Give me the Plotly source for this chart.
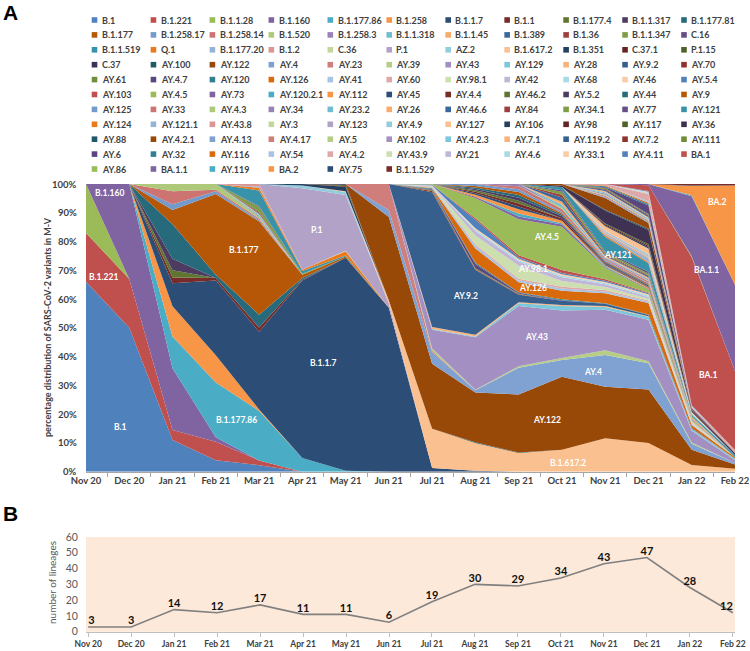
import plotly.graph_objects as go

# ---------------- data ----------------
months = ["Nov 20", "Dec 20", "Jan 21", "Feb 21", "Mar 21", "Apr 21", "May 21", "Jun 21",
          "Jul 21", "Aug 21", "Sep 21", "Oct 21", "Nov 21", "Dec 21", "Jan 22", "Feb 22"]

lineage_count = [3, 3, 14, 12, 17, 11, 11, 6, 19, 30, 29, 34, 43, 47, 28, 12]

pct_ticks = [0, 10, 20, 30, 40, 50, 60, 70, 80, 90, 100]
pct_labels = ["0%", "10%", "20%", "30%", "40%", "50%", "60%", "70%", "80%", "90%", "100%"]

# percentage shares per lineage (Nov 20 ... Feb 22), stacking order bottom -> top
early_names = ["B.1", "B.1.221", "B.1.1.28", "B.1.160", "B.1.177.86", "B.1.258", "B.1.1.7", "B.1.1",
               "B.1.177.4", "B.1.1.317", "B.1.177.81", "B.1.177", "B.1.258.17", "B.1.258.14", "B.1.520",
               "B.1.258.3", "B.1.1.318", "B.1.1.45", "B.1.389", "B.1.36", "B.1.1.347", "C.16",
               "B.1.1.519", "Q.1", "B.1.177.20", "B.1.2", "C.36", "P.1", "AZ.2", "B.1.617.2",
               "B.1.351", "C.37.1", "P.1.15", "C.37"]
early_shares = [
    [66, 50, 11, 4, 2.3, 0, 0, 0, 0, 0, 0, 0, 0, 0, 0, 0],
    [17, 17, 3.5, 6.4, 1.7, 0, 0, 0, 0, 0, 0, 0, 0, 0, 0, 0],
    [17, 0, 0, 0, 0, 0, 0, 0, 0, 0, 0, 0, 0, 0, 0, 0],
    [0, 33, 21.5, 1.6, 0, 0, 0, 0, 0, 0, 0, 0, 0, 0, 0, 0],
    [0, 0, 11, 19, 17.5, 4.8, 0.3, 0, 0, 0, 0, 0, 0, 0, 0, 0],
    [0, 0, 10.5, 9.5, 0.5, 0, 0, 0, 0, 0, 0, 0, 0, 0, 0, 0],
    [0, 0, 8, 26, 27.5, 61.7, 74.4, 57, 1.3, 0.3, 0, 0, 0, 0, 0, 0],
    [0, 0, 2, 0.8, 1.5, 0.3, 0, 0, 0, 0, 0, 0, 0, 0, 0, 0],
    [0, 0, 2.5, 0, 0, 0, 0, 0, 0, 0, 0, 0, 0, 0, 0, 0],
    [0, 0, 4, 0, 0, 0, 0, 0, 0, 0, 0, 0, 0, 0, 0, 0],
    [0, 0, 12, 1.2, 4.5, 0.5, 0, 0, 0, 0, 0, 0, 0, 0, 0, 0],
    [0, 0, 5, 28, 33, 1.2, 0.5, 0, 0, 0, 0, 0, 0, 0, 0, 0],
    [0, 0, 2, 1, 0.5, 0, 0, 0, 0, 0, 0, 0, 0, 0, 0, 0],
    [0, 0, 4.5, 0.5, 0.5, 0, 0, 0, 0, 0, 0, 0, 0, 0, 0, 0],
    [0, 0, 2.5, 2, 0.5, 0, 0, 0, 0, 0, 0, 0, 0, 0, 0, 0],
    [0, 0, 0, 0, 0.3, 0, 0, 0, 0, 0, 0, 0, 0, 0, 0, 0],
    [0, 0, 0, 0, 0.5, 0, 0, 0, 0, 0, 0, 0, 0, 0, 0, 0],
    [0, 0, 0, 0, 0.3, 0, 0, 0, 0, 0, 0, 0, 0, 0, 0, 0],
    [0, 0, 0, 0, 0.3, 0, 0, 0, 0, 0, 0, 0, 0, 0, 0, 0],
    [0, 0, 0, 0, 0.4, 0, 0, 0, 0, 0, 0, 0, 0, 0, 0, 0],
    [0, 0, 0, 0, 1.8, 0.3, 0, 0, 0, 0, 0, 0, 0, 0, 0, 0],
    [0, 0, 0, 0, 0.3, 0, 0, 0, 0, 0, 0, 0, 0, 0, 0, 0],
    [0, 0, 0, 0, 5.5, 1.0, 0.3, 0, 0, 0, 0, 0, 0, 0, 0, 0],
    [0, 0, 0, 0, 1.0, 0.4, 1.5, 0, 0, 0, 0, 0, 0, 0, 0, 0],
    [0, 0, 0, 0, 0.3, 0, 0, 0, 0, 0, 0, 0, 0, 0, 0, 0],
    [0, 0, 0, 0, 1.0, 0, 0, 0, 0, 0, 0, 0, 0, 0, 0, 0],
    [0, 0, 0, 0, 0, 0, 0.2, 0, 0, 0, 0, 0, 0, 0, 0, 0],
    [0, 0, 0, 0, 0, 28.3, 19.5, 1.5, 0, 0, 0, 0, 0, 0, 0, 0],
    [0, 0, 0, 0, 0, 1.0, 1.0, 0, 0, 0, 0, 0, 0, 0, 0, 0],
    [0, 0, 0, 0, 0, 0, 0.3, 1, 13.7, 9.7, 6.5, 7.6, 11.6, 10, 2.3, 1],
    [0, 0, 0, 0, 0, 0.5, 1.5, 0, 0, 0, 0, 0, 0, 0, 0, 0],
    [0, 0, 0, 0, 0, 0, 0.3, 0, 0, 0, 0, 0, 0, 0, 0, 0],
    [0, 0, 0, 0, 0, 0, 0.4, 0, 0, 0, 0, 0, 0, 0, 0, 0],
    [0, 0, 0, 0, 0, 0, 0.3, 0, 0, 0, 0, 0, 0, 0, 0, 0],
]

delta_names = ["AY.100", "AY.122", "AY.4", "AY.23", "AY.39", "AY.43", "AY.129", "AY.28", "AY.9.2",
               "AY.70", "AY.61", "AY.4.7", "AY.120", "AY.126", "AY.41", "AY.60", "AY.98.1", "AY.42",
               "AY.68", "AY.46", "AY.5.4", "AY.103", "AY.4.5", "AY.73", "AY.120.2.1", "AY.112",
               "AY.45", "AY.4.4", "AY.46.2", "AY.5.2", "AY.44", "AY.9", "AY.125", "AY.33", "AY.4.3",
               "AY.34", "AY.23.2", "AY.26", "AY.46.6", "AY.84", "AY.34.1", "AY.77", "AY.121"]
delta_shares = [
    [0, 0, 0, 0, 0, 0, 0, 0, 0, 0.2, 0.2, 0, 0, 0, 0, 0],
    [0, 0, 0, 0, 0, 0, 0, 29, 22.7, 17.3, 20.2, 25.4, 17.9, 18.7, 5.3, 1.5],
    [0, 0, 0, 0, 0, 0, 0, 2.5, 4, 0.8, 9.3, 5.8, 11, 9.1, 2, 0.5],
    [0, 0, 0, 0, 0, 0, 0, 9, 0.5, 0, 0, 0, 0, 0, 0, 0],
    [0, 0, 0, 0, 0, 0, 0, 0, 0.8, 0.2, 0.5, 0.7, 1.7, 0.7, 0.5, 0],
    [0, 0, 0, 0, 0, 0, 0, 0, 6.5, 18.2, 21, 16.5, 14, 14.5, 4, 1],
    [0, 0, 0, 0, 0, 0, 0, 0, 0.3, 0.3, 1, 1.6, 1, 1, 0.5, 0.5],
    [0, 0, 0, 0, 0, 0, 0, 0, 0.7, 0.6, 0.3, 0.3, 0.3, 0.2, 0.2, 0],
    [0, 0, 0, 0, 0, 0, 0, 0, 47, 22.5, 2.6, 1.5, 0.8, 0.4, 0.3, 0],
    [0, 0, 0, 0, 0, 0, 0, 0, 0.5, 0.3, 0.2, 0, 0, 0, 0, 0],
    [0, 0, 0, 0, 0, 0, 0, 0, 0.3, 0.3, 0.2, 0, 0, 0, 0, 0],
    [0, 0, 0, 0, 0, 0, 0, 0, 0.3, 1.5, 0.3, 0.2, 0, 0, 0, 0],
    [0, 0, 0, 0, 0, 0, 0, 0, 0.2, 0.4, 0.2, 0.3, 0.2, 0.2, 0, 0],
    [0, 0, 0, 0, 0, 0, 0, 0, 0.2, 5, 3.5, 3, 3.5, 4, 1, 0.5],
    [0, 0, 0, 0, 0, 0, 0, 0, 0.3, 1, 0.7, 0.8, 0.6, 0.5, 0.3, 0],
    [0, 0, 0, 0, 0, 0, 0, 0, 0.2, 0.5, 0.5, 0.6, 0.5, 0.4, 0, 0],
    [0, 0, 0, 0, 0, 0, 0, 0, 0.2, 3, 4.5, 2, 1, 0.6, 0.3, 0],
    [0, 0, 0, 0, 0, 0, 0, 0, 0.3, 1.5, 1.5, 1.3, 1, 0.6, 0.3, 0],
    [0, 0, 0, 0, 0, 0, 0, 0, 0, 0.5, 0.5, 0.5, 0.4, 0.5, 0, 0],
    [0, 0, 0, 0, 0, 0, 0, 0, 0, 0.5, 0.5, 0.5, 0.4, 0.5, 0.3, 0],
    [0, 0, 0, 0, 0, 0, 0, 0, 0.2, 3, 0.5, 0.5, 0.4, 0.3, 0, 0],
    [0, 0, 0, 0, 0, 0, 0, 0, 0, 0.5, 0.7, 1, 0.5, 0.3, 0, 0],
    [0, 0, 0, 0, 0, 0, 0, 0, 0.2, 7, 12.5, 15, 4, 1, 0.3, 0],
    [0, 0, 0, 0, 0, 0, 0, 0, 0, 0.5, 1, 0.8, 0.3, 0.3, 0, 0],
    [0, 0, 0, 0, 0, 0, 0, 0, 0, 0, 1, 0.5, 0.3, 0, 0, 0],
    [0, 0, 0, 0, 0, 0, 0, 0, 0, 0.7, 1.5, 0.8, 0.3, 0.3, 0.3, 0],
    [0, 0, 0, 0, 0, 0, 0, 0, 0, 0.5, 1, 0, 0.3, 0, 0, 0],
    [0, 0, 0, 0, 0, 0, 0, 0, 0, 0.5, 1, 0.8, 0.3, 0.3, 0, 0],
    [0, 0, 0, 0, 0, 0, 0, 0, 0, 0.5, 1, 0, 0, 0.2, 0, 0],
    [0, 0, 0, 0, 0, 0, 0, 0, 0, 0.5, 1, 0.8, 0.3, 0.3, 0, 0],
    [0, 0, 0, 0, 0, 0, 0, 0, 0, 0.5, 1, 0.5, 0.3, 0.3, 0, 0],
    [0, 0, 0, 0, 0, 0, 0, 0, 0, 0.5, 1, 0.5, 0.3, 0.3, 0, 0],
    [0, 0, 0, 0, 0, 0, 0, 0, 0, 0.7, 1, 0.5, 0.3, 0.3, 0.3, 0],
    [0, 0, 0, 0, 0, 0, 0, 0, 0, 0, 1, 1, 0.4, 0.6, 0.3, 0],
    [0, 0, 0, 0, 0, 0, 0, 0, 0, 0, 0, 0.5, 0, 0.3, 0, 0],
    [0, 0, 0, 0, 0, 0, 0, 0, 0, 0, 0.8, 0, 0.3, 0.3, 0, 0],
    [0, 0, 0, 0, 0, 0, 0, 0, 0, 0, 0, 1, 0.3, 0.3, 0, 0],
    [0, 0, 0, 0, 0, 0, 0, 0, 0, 0, 0, 1, 0.4, 0.4, 0.3, 0],
    [0, 0, 0, 0, 0, 0, 0, 0, 0, 0, 0, 1.5, 0.3, 0.4, 0, 0],
    [0, 0, 0, 0, 0, 0, 0, 0, 0, 0, 0, 1, 0.3, 0.4, 0, 0],
    [0, 0, 0, 0, 0, 0, 0, 0, 0, 0, 0, 1, 0.6, 0.6, 0.3, 0],
    [0, 0, 0, 0, 0, 0, 0, 0, 0, 0, 0, 0.5, 0.4, 0.6, 0, 0],
    [0, 0, 0, 0, 0, 0, 0, 0, 0, 0, 0, 1.2, 5, 3, 0.5, 0.8],
]

late_names = ["AY.124", "AY.121.1", "AY.43.8", "AY.3", "AY.123", "AY.4.9", "AY.127", "AY.106", "AY.98",
              "AY.117", "AY.36", "AY.88", "AY.4.2.1", "AY.4.13", "AY.4.17", "AY.5", "AY.102",
              "AY.4.2.3", "AY.7.1", "AY.119.2", "AY.7.2", "AY.111", "AY.6", "AY.32", "AY.116",
              "AY.54", "AY.4.2", "AY.43.9", "AY.21", "AY.4.6", "AY.33.1", "AY.4.11"]
late_shares = [
    [0, 0, 0, 0, 0, 0, 0, 0, 0, 0, 0, 0, 0.5, 0.4, 0, 0],
    [0, 0, 0, 0, 0, 0, 0, 0, 0, 0, 0, 0, 0.4, 1.2, 0.3, 0],
    [0, 0, 0, 0, 0, 0, 0, 0, 0, 0, 0, 0, 0.4, 0.4, 0, 0],
    [0, 0, 0, 0, 0, 0, 0, 0, 0, 0, 0, 0, 0.3, 0.3, 0, 0],
    [0, 0, 0, 0, 0, 0, 0, 0, 0, 0, 0, 0, 0.3, 0.4, 0, 0],
    [0, 0, 0, 0, 0, 0, 0, 0, 0, 0, 0, 0, 0.3, 0.4, 0.3, 0],
    [0, 0, 0, 0, 0, 0, 0, 0, 0, 0, 0, 0, 1.5, 2, 0.4, 0],
    [0, 0, 0, 0, 0, 0, 0, 0, 0, 0, 0, 0, 0.3, 0.5, 0, 0],
    [0, 0, 0, 0, 0, 0, 0, 0, 0, 0, 0, 0, 0.4, 0.5, 0.3, 0],
    [0, 0, 0, 0, 0, 0, 0, 0, 0, 0, 0, 0, 0.3, 0.5, 0, 0],
    [0, 0, 0, 0, 0, 0, 0, 0, 0, 0, 0, 0.5, 4.5, 5, 0.5, 0.7],
    [0, 0, 0, 0, 0, 0, 0, 0, 0, 0, 0, 0, 0.3, 0.4, 0, 0],
    [0, 0, 0, 0, 0, 0, 0, 0, 0, 0, 0, 0.5, 4, 2, 0.3, 0],
    [0, 0, 0, 0, 0, 0, 0, 0, 0, 0, 0, 0, 0.4, 0.4, 0, 0],
    [0, 0, 0, 0, 0, 0, 0, 0, 0, 0, 0, 0, 0.4, 0.4, 0, 0],
    [0, 0, 0, 0, 0, 0, 0, 0, 0, 0, 0, 0, 0.4, 0.3, 0, 0],
    [0, 0, 0, 0, 0, 0, 0, 0, 0, 0, 0, 0, 0.4, 0.3, 0, 0],
    [0, 0, 0, 0, 0, 0, 0, 0, 0, 0, 0, 0, 0.4, 0.3, 0, 0],
    [0, 0, 0, 0, 0, 0, 0, 0, 0, 0, 0, 0, 0.5, 0.3, 0, 0],
    [0, 0, 0, 0, 0, 0, 0, 0, 0, 0, 0, 0, 0.4, 0.5, 0, 0],
    [0, 0, 0, 0, 0, 0, 0, 0, 0, 0, 0, 0, 0.3, 0.3, 0, 0],
    [0, 0, 0, 0, 0, 0, 0, 0, 0, 0, 0, 0, 0.3, 0.3, 0, 0],
    [0, 0, 0, 0, 0, 0, 0, 0, 0, 0, 0, 0, 0.3, 3, 0.3, 0],
    [0, 0, 0, 0, 0, 0, 0, 0, 0, 0, 0, 0, 0.3, 0.5, 0, 0],
    [0, 0, 0, 0, 0, 0, 0, 0, 0, 0, 0, 0, 0.3, 0.5, 0, 0],
    [0, 0, 0, 0, 0, 0, 0, 0, 0, 0, 0, 0, 0, 0.5, 0, 0],
    [0, 0, 0, 0, 0, 0, 0, 0, 0, 0, 0, 0, 0.5, 2.5, 0.5, 1.0],
    [0, 0, 0, 0, 0, 0, 0, 0, 0, 0, 0, 0, 0, 0.2, 0, 0],
    [0, 0, 0, 0, 0, 0, 0, 0, 0, 0, 0, 0, 0, 0.2, 0, 0],
    [0, 0, 0, 0, 0, 0, 0, 0, 0, 0, 0, 0, 0, 0.2, 0.2, 0],
    [0, 0, 0, 0, 0, 0, 0, 0, 0, 0, 0, 0, 0, 0.2, 0, 0],
    [0, 0, 0, 0, 0, 0, 0, 0, 0, 0, 0, 0, 0, 0.3, 0.2, 0],
]

omicron_names = ["BA.1", "AY.86", "BA.1.1", "AY.119", "BA.2", "AY.75", "B.1.1.529"]
omicron_shares = [
    [0, 0, 0, 0, 0, 0, 0, 0, 0, 0, 0, 0, 0, 2, 51, 27.5],
    [0, 0, 0, 0, 0, 0, 0, 0, 0, 0, 0, 0, 0, 0, 0.3, 0],
    [0, 0, 0, 0, 0, 0, 0, 0, 0, 0, 0, 0, 0, 0.4, 20.7, 30],
    [0, 0, 0, 0, 0, 0, 0, 0, 0, 0, 0, 0, 0, 0, 0.3, 0],
    [0, 0, 0, 0, 0, 0, 0, 0, 0, 0, 0, 0, 0, 0, 3.2, 34.5],
    [0, 0, 0, 0, 0, 0, 0, 0, 0, 0, 0, 0, 0, 0, 0.2, 0],
    [0, 0, 0, 0, 0, 0, 0, 0, 0, 0, 0, 0, 0, 0, 0.5, 0.5],
]

# Excel-like 54-colour cycle
palette = [
    "#4F81BD", "#C0504D", "#9BBB59", "#8064A2", "#4BACC6", "#F79646",
    "#2C4D75", "#772C2A", "#5F7530", "#4D3B62", "#276A7C", "#B65708",
    "#729ACA", "#CD7371", "#AFC97A", "#9983B5", "#6FBDD1", "#F9AB6B",
    "#3A679C", "#9F3F3C", "#7F9D45", "#664F86", "#3892A9", "#EA7A1E",
    "#95B3D7", "#D99694", "#C3D69B", "#B3A2C7", "#93CDDD", "#FAC090",
    "#243F60", "#632523", "#4F6228", "#3F3151", "#215968", "#984807",
    "#7FA2D2", "#D07E7C", "#B6CD86", "#A48FC3", "#7CC8DA", "#F9B27C",
    "#375F8E", "#8F3331", "#728C3C", "#5C4680", "#2F8097", "#D96A0C",
    "#A9C3E3", "#DDA8A7", "#CDDFAE", "#C2B6D8", "#A7DAE7", "#FBCBA5",
]

area_labels = ["B.1", "B.1.221", "B.1.160", "B.1.177", "P.1", "B.1.177.86", "B.1.1.7", "AY.9.2",
               "AY.4.5", "AY.98.1", "AY.126", "AY.121", "AY.43", "AY.4", "AY.122", "B.1.617.2",
               "BA.2", "BA.1.1", "BA.1"]
area_label_x = [0.79, 0.40, 0.55, 3.64, 5.33, 3.48, 5.48, 8.76, 10.65, 10.32, 10.34, 12.30, 10.42,
                11.72, 10.65, 11.15, 14.58, 14.34, 14.38]
area_label_y = [15.6, 67.8, 96.8, 77.1, 84.0, 18.0, 37.8, 61.1, 81.7, 70.4, 63.7, 75.3, 46.9, 34.8,
                18.0, 2.9, 93.8, 70.1, 33.6]

# ---------------- figure ----------------
W, H = 750, 651
FONT = "Lato, 'Open Sans', sans-serif"
lineages = early_names + delta_names + late_names + omicron_names
shares = early_shares + delta_shares + late_shares + omicron_shares
xs = list(range(len(months)))

fig = go.Figure()
for i, (name, vals) in enumerate(zip(lineages, shares)):
    col = palette[i % len(palette)]
    fig.add_trace(go.Scatter(
        x=xs, y=vals, name=name, stackgroup="one", groupnorm="percent",
        mode="none", fillcolor=col, line=dict(width=0),
        hoverinfo="skip", showlegend=False, xaxis="x", yaxis="y"))

pos = ["top right"] + ["top center"] * (len(xs) - 2) + ["top left"]
fig.add_trace(go.Scatter(
    x=xs, y=lineage_count, mode="lines+text",
    text=[f"<b>{v}</b>" for v in lineage_count], textposition=pos,
    textfont=dict(family=FONT, size=11, color="#111111"),
    line=dict(color="#808080", width=1.6), showlegend=False, hoverinfo="skip",
    xaxis="x2", yaxis="y2"))


def px_x(p):
    return p / W


def px_y(p):
    return 1 - p / H


xdom = [px_x(86), px_x(735)]

annotations = []
shapes = []

# custom legend grid (11 columns)
ncol = 11
for i, name in enumerate(lineages):
    r, c = divmod(i, ncol)
    x0 = 91.7 + 58.95 * c
    yc = 20 + 14.9 * r
    shapes.append(dict(type="rect", xref="paper", yref="paper",
                       x0=px_x(x0), x1=px_x(x0 + 5.6), y0=px_y(yc + 2.8), y1=px_y(yc - 2.8),
                       fillcolor=palette[i % len(palette)], line=dict(width=0)))
    annotations.append(dict(text=f"<b>{name}</b>", xref="paper", yref="paper",
                            x=px_x(x0 + 8), y=px_y(yc), xanchor="left", yanchor="middle",
                            showarrow=False, font=dict(family=FONT, size=9, color="#404040")))

# percentage tick labels of panel A
for v, t in zip(pct_ticks, pct_labels):
    annotations.append(dict(text=f"<b>{t}</b>", xref="paper", yref="y", x=px_x(79), y=v,
                            xanchor="right", yanchor="middle", showarrow=False,
                            font=dict(family=FONT, size=9.5, color="#404040")))

for t, lx, ly in zip(area_labels, area_label_x, area_label_y):
    annotations.append(dict(text=f"<b>{t}</b>", x=lx, y=ly, xref="x", yref="y", showarrow=False,
                            xanchor="center", yanchor="middle",
                            font=dict(family=FONT, size=8.5, color="white")))

annotations += [
    dict(text="<b>A</b>", xref="paper", yref="paper", x=px_x(10), y=px_y(13), showarrow=False,
         xanchor="center", yanchor="middle",
         font=dict(family="Liberation Sans, Arial, sans-serif", size=21, color="black")),
    dict(text="<b>B</b>", xref="paper", yref="paper", x=px_x(10), y=px_y(513), showarrow=False,
         xanchor="center", yanchor="middle",
         font=dict(family="Liberation Sans, Arial, sans-serif", size=21, color="black")),
    dict(text="<b>percentage distribution of SARS-CoV-2 variants in M-V</b>", xref="paper",
         yref="paper", x=px_x(47), y=px_y(327), textangle=-90, showarrow=False,
         xanchor="center", yanchor="middle",
         font=dict(family=FONT, size=9, color="#404040")),
    dict(text="number of lineages", xref="paper", yref="paper", x=px_x(52), y=px_y(583),
         textangle=-90, showarrow=False, xanchor="center", yanchor="middle",
         font=dict(family=FONT, size=10, color="#595959")),
]

shapes.append(dict(type="rect", xref="x2 domain", yref="y2 domain", x0=0, x1=1, y0=0, y1=1,
                   fillcolor="#FDE9D9", line=dict(width=0), layer="below"))

fig.update_layout(
    width=W, height=H, margin=dict(l=0, r=0, t=0, b=0, pad=0), autosize=False,
    paper_bgcolor="white", plot_bgcolor="white",
    font=dict(family=FONT, color="#404040"),
    annotations=annotations, shapes=shapes,
    xaxis=dict(domain=xdom, range=[0, 15], tickvals=xs, automargin=False,
               ticktext=[f"<b>{m}</b>" for m in months], ticks="",
               tickfont=dict(family=FONT, size=9.5, color="#404040"),
               showline=True, linecolor="#A6A6A6", linewidth=1, showgrid=False, zeroline=False,
               minor=dict(tickvals=[i + 0.5 for i in range(15)], ticks="outside", ticklen=4,
                          tickcolor="#A6A6A6", showgrid=False),
               anchor="y", fixedrange=True),
    yaxis=dict(domain=[px_y(471.7), px_y(184)], range=[0, 100], tickvals=pct_ticks,
               showticklabels=False, ticks="", automargin=False,
               showgrid=False, zeroline=False, showline=False, anchor="x", fixedrange=True),
    xaxis2=dict(domain=xdom, range=[-0.05, 15.05], tickvals=xs, automargin=False,
                ticktext=[f"<b>{m}</b>" for m in months], ticks="outside", ticklen=4,
                tickcolor="#BFBFBF", tickfont=dict(family=FONT, size=8.5, color="#404040"),
                showline=True, linecolor="#BFBFBF", showgrid=False, zeroline=False,
                anchor="y2", fixedrange=True),
    yaxis2=dict(domain=[px_y(631.7), px_y(537)], range=[0, 60], dtick=10, automargin=False,
                tickfont=dict(family=FONT, size=10.5, color="#595959"),
                ticks="outside", ticklen=5, tickcolor="rgba(0,0,0,0)",
                showgrid=False, zeroline=False, showline=False, anchor="x2", fixedrange=True),
)

fig.write_html("out.html", config={"displayModeBar": False},
               post_script="document.body.style.margin='0px';document.body.style.overflow='hidden';")
